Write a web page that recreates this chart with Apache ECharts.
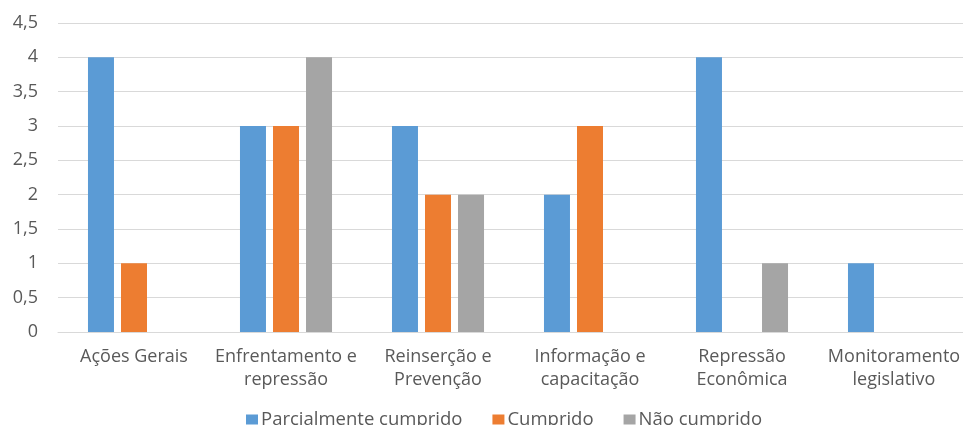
<!DOCTYPE html>
<html>
<head>
<meta charset="utf-8">
<script src="https://cdn.jsdelivr.net/npm/echarts@6/dist/echarts.min.js"></script>
<style>
  html, body { margin: 0; padding: 0; background: #fff; }
  #chart { width: 963px; height: 425px; }
</style>
</head>
<body>
<div id="chart"></div>
<script>
// Áreas de ação e situação de cumprimento
const categories = [
  'Ações Gerais',
  'Enfrentamento e\nrepressão',
  'Reinserção e\nPrevenção',
  'Informação e\ncapacitação',
  'Repressão\nEconômica',
  'Monitoramento\nlegislativo'
];
const seriesNames = ['Parcialmente cumprido', 'Cumprido', 'Não cumprido'];
const parcialmente = [4, 3, 3, 2, 4, 1];
const cumprido = [1, 3, 2, 3, 0, 0];
const naoCumprido = [0, 4, 2, 0, 1, 0];
const colors = ['#5B9BD5', '#ED7D31', '#A5A5A5'];

const font = '"Open Sans", "Liberation Sans", sans-serif';
const textColor = '#595959';

const chart = echarts.init(document.getElementById('chart'), null, { renderer: 'canvas' });

const values = [parcialmente, cumprido, naoCumprido];

chart.setOption({
  animation: false,
  color: colors,
  // the plot runs slightly past the right edge of the canvas
  grid: {
    left: 58, width: 912, top: 23, bottom: 93,
    containLabel: false,
    outerBoundsMode: 'none'
  },
  legend: {
    bottom: -9,
    left: 241,
    itemWidth: 12,
    itemHeight: 10,
    itemGap: 30,
    icon: 'rect',
    textStyle: { fontFamily: font, fontSize: 18.5, color: textColor, padding: [0, 0, 0, -2] },
    data: seriesNames
  },
  xAxis: {
    type: 'category',
    data: categories,
    axisLine: { lineStyle: { color: '#D9D9D9', width: 1 } },
    axisTick: { show: false },
    axisLabel: {
      interval: 0,
      margin: 13,
      fontFamily: font,
      fontSize: 18,
      color: textColor,
      lineHeight: 23
    }
  },
  yAxis: {
    type: 'value',
    min: 0,
    max: 4.5,
    interval: 0.5,
    axisLine: { show: false },
    axisTick: { show: false },
    splitLine: { lineStyle: { color: '#D9D9D9', width: 1 } },
    axisLabel: {
      margin: 20,
      fontFamily: font,
      fontSize: 18,
      color: textColor,
      formatter: v => String(v).replace('.', ',')
    }
  },
  series: seriesNames.map((name, i) => ({
    name: name,
    type: 'bar',
    data: values[i],
    barWidth: 26,
    barGap: '27%',
    itemStyle: { color: colors[i] }
  }))
});
</script>
</body>
</html>
